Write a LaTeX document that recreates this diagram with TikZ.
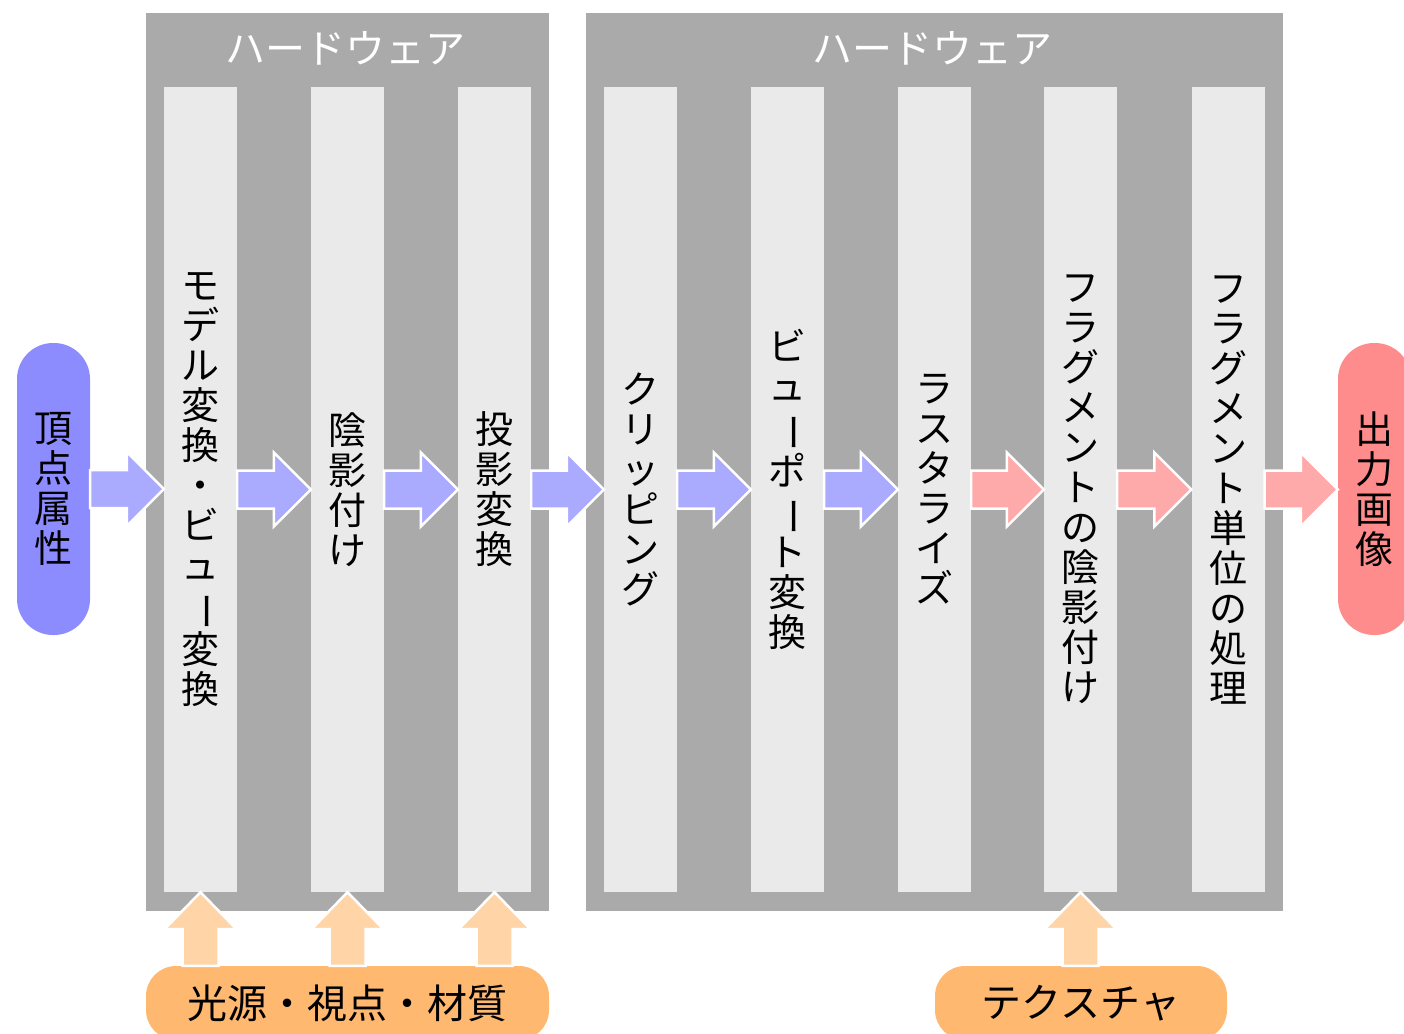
\documentclass[tikz,border=0pt]{standalone}
\usepackage{fontspec}
\setmainfont{Noto Sans CJK JP}
\usepackage{graphicx}
\usetikzlibrary{calc}
\definecolor{hwgray}{RGB}{170, 170, 170}
\definecolor{stagegray}{RGB}{234, 234, 234}
\definecolor{vblue}{RGB}{140, 140, 255}
\definecolor{ablue}{RGB}{170, 170, 255}
\definecolor{ored}{RGB}{255, 140, 140}
\definecolor{apink}{RGB}{255, 170, 170}
\definecolor{lorange}{RGB}{255, 184, 112}
\definecolor{aorange}{RGB}{255, 213, 168}
\newcommand{\jfont}{\fontsize{38}{40}\selectfont}
\newcommand{\yokofont}{\fontsize{40}{42}\selectfont}
\newcommand{\bou}{\rotatebox[origin=c]{-90}{ー}}

\begin{document}
\begin{tikzpicture}[x=1pt, y=-1pt,
  hw/.style={fill=hwgray, inner sep=0pt},
  stage/.style={fill=stagegray, minimum width=73pt, minimum height=805pt,
    inner sep=0pt, align=center, font=\jfont},
  pill/.style={minimum width=73pt, minimum height=292pt, inner sep=0pt,
    rounded corners=36pt, align=center, font=\jfont},
  src/.style={fill=lorange, minimum height=74pt, inner sep=0pt,
    rounded corners=30pt, font=\yokofont},
  fatright/.style={draw=white, line width=2.5pt, to path={
    let \p1=(\tikztostart), \p2=(\tikztotarget) in
    (\x1,\y1+19pt) -- (\x2-37pt,\y1+19pt) -- (\x2-37pt,\y1+37pt) -- (\x2,\y1)
    -- (\x2-37pt,\y1-37pt) -- (\x2-37pt,\y1-19pt) -- (\x1,\y1-19pt) -- cycle}},
  fatup/.style={fill=aorange, draw=white, line width=2.5pt, to path={
    let \p1=(\tikztostart), \p2=(\tikztotarget) in
    (\x2-18pt,\y1) -- (\x2-18pt,\y2-37pt) -- (\x2-36pt,\y2-37pt) -- (\x2,\y2)
    -- (\x2+36pt,\y2-37pt) -- (\x2+18pt,\y2-37pt) -- (\x2+18pt,\y1) -- cycle}}]
  \useasboundingbox (0, 0) rectangle (1404, 1033);

  % hardware blocks
  \node[hw, minimum width=403pt, minimum height=898pt] (hw1) at (347.5, 462) {};
  \node[hw, minimum width=697pt, minimum height=898pt] (hw2) at (934.5, 462) {};
  \node[text=white, font=\yokofont] (hw1title) at (345, 48) {ハードウェア};
  \node[text=white, font=\yokofont] (hw2title) at (932, 48) {ハードウェア};

  % stages
  \node[stage] (model) at (200.5, 489.5) {モ\\デ\\ル\\変\\換\\・\\ビ\\ュ\\\bou\\変\\換};
  \node[stage] (shade) at (347.5, 489.5) {陰\\影\\付\\け};
  \node[stage] (proj) at (494.5, 489.5) {投\\影\\変\\換};
  \node[stage] (clip) at (640.5, 489.5) {ク\\リ\\ッ\\ピ\\ン\\グ};
  \node[stage] (view) at (787.5, 489.5) {ビ\\ュ\\\bou\\ポ\\\bou\\ト\\変\\換};
  \node[stage] (raster) at (934.5, 489.5) {ラ\\ス\\タ\\ラ\\イ\\ズ};
  \node[stage] (fshade) at (1080.5, 489.5) {フ\\ラ\\グ\\メ\\ン\\ト\\の\\陰\\影\\付\\け};
  \node[stage] (fop) at (1228, 489.5) {フ\\ラ\\グ\\メ\\ン\\ト\\単\\位\\の\\処\\理};

  % input and output
  \node[pill, fill=vblue] (vert) at (53.5, 489) {頂\\点\\属\\性};
  \node[pill, fill=ored] (out) at (1374.5, 489) {出\\力\\画\\像};

  % data flow
  \draw[fatright, fill=ablue] (vert.east) to (model.west);
  \draw[fatright, fill=ablue] (model.east) to (shade.west);
  \draw[fatright, fill=ablue] (shade.east) to (proj.west);
  \draw[fatright, fill=ablue] (proj.east) to (clip.west);
  \draw[fatright, fill=ablue] (clip.east) to (view.west);
  \draw[fatright, fill=ablue] (view.east) to (raster.west);
  \draw[fatright, fill=apink] (raster.east) to (fshade.west);
  \draw[fatright, fill=apink] (fshade.east) to (fop.west);
  \draw[fatright, fill=apink] (fop.east) to (out.west);

  % external inputs
  \node[src, minimum width=403pt] (light) at (347.5, 1003) {光源・視点・材質};
  \node[src, minimum width=292pt] (tex) at (1081, 1003) {テクスチャ};
  \draw[fatup] (light.north -| model.south) to (model.south);
  \draw[fatup] (light.north -| shade.south) to (shade.south);
  \draw[fatup] (light.north -| proj.south) to (proj.south);
  \draw[fatup] (tex.north -| fshade.south) to (fshade.south);
\end{tikzpicture}
\end{document}
